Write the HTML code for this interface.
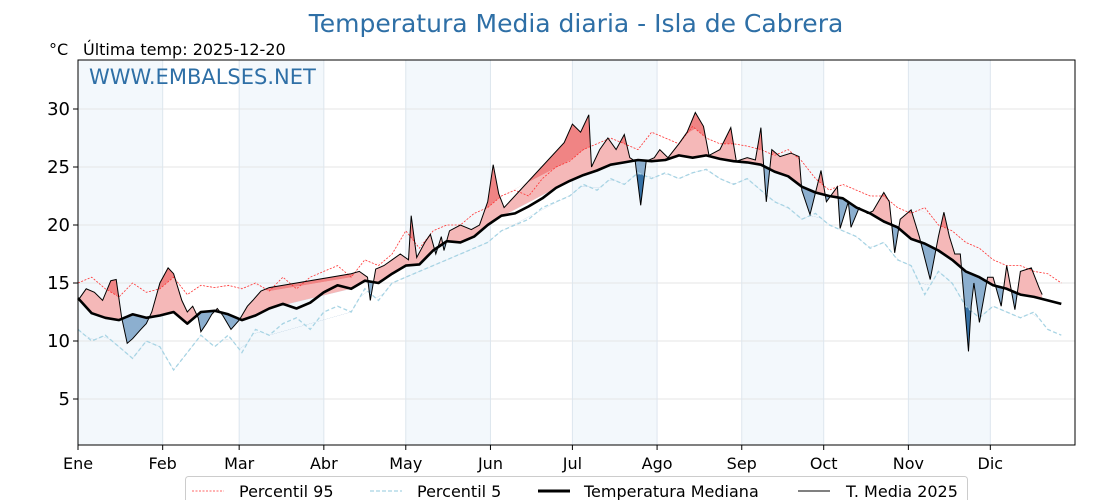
<!DOCTYPE html>
<html><head><meta charset="utf-8"><style>
body{margin:0;background:#fff;}
svg{display:block;font-family:"DejaVu Sans","Liberation Sans",sans-serif;}
</style></head><body>
<svg id="chart" width="1120" height="500" viewBox="0 0 1120 500">
<text x="576" y="32" text-anchor="middle" font-size="25" fill="#2e6fa6">Temperatura Media diaria - Isla de Cabrera</text>
<text x="49" y="55" font-size="16" fill="#000">°C</text>
<text x="83" y="55" font-size="16" fill="#000">Última temp: 2025-12-20</text>
<g id="bands"></g><g id="grid"></g><g id="fills"></g><g id="lines"></g><g id="axes"></g>
<text x="89" y="84" font-size="21" fill="#2e6fa6">WWW.EMBALSES.NET</text>
<g>
<rect x="185.5" y="476.5" width="782" height="30" rx="3" fill="#fff" stroke="#ccc"/>
<line x1="192" y1="491" x2="224" y2="491" stroke="#ff3333" stroke-width="0.8" stroke-dasharray="2,1.5"/>
<text x="239" y="497" font-size="16">Percentil 95</text>
<line x1="370" y1="491" x2="402" y2="491" stroke="#a8d4e4" stroke-width="1.2" stroke-dasharray="4,2"/>
<text x="417" y="497" font-size="16">Percentil 5</text>
<line x1="538" y1="491" x2="570" y2="491" stroke="#000" stroke-width="3"/>
<text x="584" y="497" font-size="16">Temperatura Mediana</text>
<line x1="798" y1="491" x2="830" y2="491" stroke="#000" stroke-width="1"/>
<text x="846" y="497" font-size="16">T. Media 2025</text>
</g>
</svg>
<script>
const gridDays=[0,5,10,15,20,25,30,35,40,45,50,55,60,65,70,75,80,85,90,95,100,105,110,115,120,125,130,135,140,145,150,155,160,165,170,175,180,185,190,195,200,205,210,215,220,225,230,235,240,245,250,255,260,265,270,275,280,285,290,295,300,305,310,315,320,325,330,335,340,345,350,355,360];
const medianVals=[13.7,12.4,12.0,11.8,12.3,12.0,12.2,12.5,11.5,12.5,12.6,12.3,11.8,12.2,12.8,13.2,12.8,13.3,14.2,14.8,14.5,15.2,15.0,15.8,16.5,16.6,17.8,18.6,18.5,19.0,20.0,20.8,21.0,21.6,22.3,23.2,23.8,24.3,24.7,25.2,25.4,25.6,25.5,25.6,26.0,25.8,26.0,25.7,25.5,25.4,25.2,24.6,24.2,23.3,22.8,22.5,22.3,21.5,21.0,20.3,19.8,18.8,18.4,17.8,17.0,16.0,15.5,14.8,14.5,14.0,13.8,13.5,13.2];
const p95Vals=[15.0,15.5,14.5,13.8,15.0,14.2,14.5,15.5,14.0,14.8,14.6,14.8,14.5,15.0,14.3,15.5,14.5,15.5,16.0,16.5,15.5,17.0,16.5,17.5,19.5,18.0,19.5,20.0,20.0,21.0,21.5,22.5,23.0,22.5,24.0,25.0,25.5,26.5,27.0,27.5,27.0,26.5,28.0,27.5,27.0,28.5,27.5,27.0,27.0,26.8,26.5,26.0,26.5,25.5,24.0,23.0,23.5,23.0,22.5,22.5,21.5,21.0,21.5,20.0,19.5,18.5,18.0,17.0,16.5,16.5,16.0,15.8,15.0];
const p5Vals=[11.0,10.0,10.5,9.5,8.5,10.0,9.5,7.5,9.0,10.5,9.5,10.5,9.0,11.0,10.5,11.5,12.0,11.0,12.5,13.0,12.5,14.5,13.5,15.0,15.5,16.0,16.5,17.0,17.5,18.0,18.5,19.5,20.0,20.5,21.5,22.0,22.5,23.5,23.0,24.0,23.5,24.5,24.0,24.5,24.0,24.5,24.8,24.0,23.5,24.0,23.0,22.0,21.5,20.5,21.0,20.0,19.5,19.0,18.0,18.5,17.0,16.5,14.0,16.0,15.0,13.0,12.0,13.0,12.5,12.0,12.5,11.0,10.5];
const t2025Days=[0,3,6,9,12,14,16,18,20,23,25,27,30,33,35,38,40,42,44,45,47,49,51,53,56,59,62,64,67,70,100,103,106,107,109,112,115,118,121,122,124,127,129,131,133,134,136,140,144,147,150,152,154,156,178,181,184,187,188,191,194,197,200,202,204,206,208,211,213,216,220,223,226,229,231,235,239,241,245,248,250,252,254,257,261,264,265,268,272,274,278,279,282,283,286,289,291,295,297,299,301,305,308,312,315,317,319,321,323,326,327,328,330,333,335,338,340,343,345,349,352,353];
const t2025Vals=[13.5,14.5,14.2,13.5,15.2,15.3,12.0,9.8,10.2,11.0,11.5,12.5,15.0,16.3,15.8,13.5,12.5,13.0,12.0,10.8,11.5,12.3,12.8,12.2,11.0,11.8,13.0,13.5,14.3,14.6,15.8,16.0,15.5,13.5,16.2,16.5,17.0,17.5,17.0,20.8,17.2,18.5,19.2,17.5,19.0,17.8,19.5,20.0,19.6,20.0,22.0,25.2,22.7,21.5,27.1,28.7,28.0,29.5,25.0,26.5,27.5,26.5,27.8,25.8,25.5,21.7,25.5,25.8,26.5,25.8,27.0,28.0,29.7,28.5,26.0,26.5,28.4,25.5,25.8,25.6,28.4,22.0,26.5,25.9,26.2,25.9,23.0,20.9,24.7,22.0,23.3,19.7,22.0,19.8,21.5,21.0,21.2,22.8,22.0,17.6,20.5,21.3,19.0,15.3,19.0,21.1,19.0,17.5,17.5,9.1,13.0,15.0,11.6,15.5,15.5,13.0,16.5,12.7,16.0,16.3,14.5,14.0];
const yTicks=[5,10,15,20,25,30];
const monthLabels=["Ene","Feb","Mar","Abr","May","Jun","Jul","Ago","Sep","Oct","Nov","Dic"];
const monthStarts=[0,31,59,90,120,151,181,212,243,273,304,334,365];

const NS="http://www.w3.org/2000/svg";
const L=78,R=1075,T=60,B=445;
const xs=d=>L+d*(R-L)/365;
const ys=v=>457-v*11.6;
function mk(tag,attrs,parent){const e=document.createElementNS(NS,tag);for(const k in attrs)e.setAttribute(k,attrs[k]);document.getElementById(parent).appendChild(e);return e;}
function interp(days,vals,d){if(d<=days[0])return vals[0];for(let i=1;i<days.length;i++){if(d<=days[i]){const f=(d-days[i-1])/(days[i]-days[i-1]);return vals[i-1]+f*(vals[i]-vals[i-1]);}}return vals[vals.length-1];}

for(let m=0;m<12;m+=2){
 const r=mk('rect',{x:xs(monthStarts[m]),y:T,width:xs(monthStarts[m+1])-xs(monthStarts[m]),height:B-T,fill:'#f3f8fc'},'bands');
 
 
}
yTicks.forEach(v=>{
 const l=mk('line',{x1:L,x2:R,y1:ys(v),y2:ys(v),stroke:'#e6e6e6','stroke-width':1},'grid');
 
 
});
monthStarts.slice(1,12).forEach(d=>{
 const l=mk('line',{x1:xs(d),x2:xs(d),y1:T,y2:B,stroke:'#dde6ee','stroke-width':1},'grid');
 
 
});

const tp=t2025Days.map((d,i)=>[xs(d),ys(t2025Vals[i])]);
const medAt=t2025Days.map(d=>[xs(d),ys(interp(gridDays,medianVals,d))]);
const p95At=t2025Days.map(d=>[xs(d),ys(interp(gridDays,p95Vals,d))]);
const p5At=t2025Days.map(d=>[xs(d),ys(interp(gridDays,p5Vals,d))]);
const pts=a=>a.map(p=>p[0].toFixed(1)+','+p[1].toFixed(1)).join(' ');
const x0=tp[0][0],x1=tp[tp.length-1][0];
const defs=mk('defs',{},'fills');
function clip(id,ref,above){const c=document.createElementNS(NS,'clipPath');c.setAttribute('id',id);defs.appendChild(c);const p=document.createElementNS(NS,'polygon');const edge=above?[[x1,0],[x0,0]]:[[x1,500],[x0,500]];p.setAttribute('points',pts(ref.concat(edge)));c.appendChild(p);}
clip('aboveMed',medAt,true);clip('belowMed',medAt,false);clip('aboveP95',p95At,true);clip('belowP5',p5At,false);
const poly=(ref,fill,cl,name)=>{const p=mk('polygon',{points:pts(tp.concat(ref.slice().reverse())),fill:fill,'clip-path':'url(#'+cl+')'},'fills');
 
 };
poly(medAt,'#f5b8b8','aboveMed','fill-above-median');
poly(medAt,'#8cafcf','belowMed','fill-below-median');
poly(p95At,'#f08484','aboveP95','fill-above-p95');
poly(p5At,'#3571a6','belowP5','fill-below-p5');

function line(days,vals,attrs,name){const p=mk('polyline',Object.assign({points:pts(days.map((d,i)=>[xs(d),ys(vals[i])])),fill:'none'},attrs),'lines');
 
 }
line(gridDays,p5Vals,{stroke:'#a8d4e4','stroke-width':1.3,'stroke-dasharray':'4,2.5'},'p5-line');
line(gridDays,p95Vals,{stroke:'#ff3333','stroke-width':0.8,'stroke-dasharray':'2,1.5'},'p95-line');
line(t2025Days,t2025Vals,{stroke:'#000','stroke-width':1},'t2025-line');
line(gridDays,medianVals,{stroke:'#000','stroke-width':2.6,'stroke-linejoin':'round'},'median-line');

const fr=mk('rect',{x:L,y:T,width:R-L,height:B-T,fill:'none',stroke:'#000','stroke-width':1},'axes');


yTicks.forEach(v=>{
 mk('line',{x1:L-5,x2:L,y1:ys(v),y2:ys(v),stroke:'#000'},'axes');
 const t=mk('text',{x:L-8,y:ys(v)+6,'text-anchor':'end','font-size':18},'axes');t.textContent=v;
 
 
});
monthLabels.forEach((m,i)=>{
 mk('line',{x1:xs(monthStarts[i]),x2:xs(monthStarts[i]),y1:B,y2:B+5,stroke:'#000'},'axes');
 const t=mk('text',{x:xs(monthStarts[i]),y:469,'text-anchor':'middle','font-size':16},'axes');t.textContent=m;
 
 
});
</script>
</body></html>
